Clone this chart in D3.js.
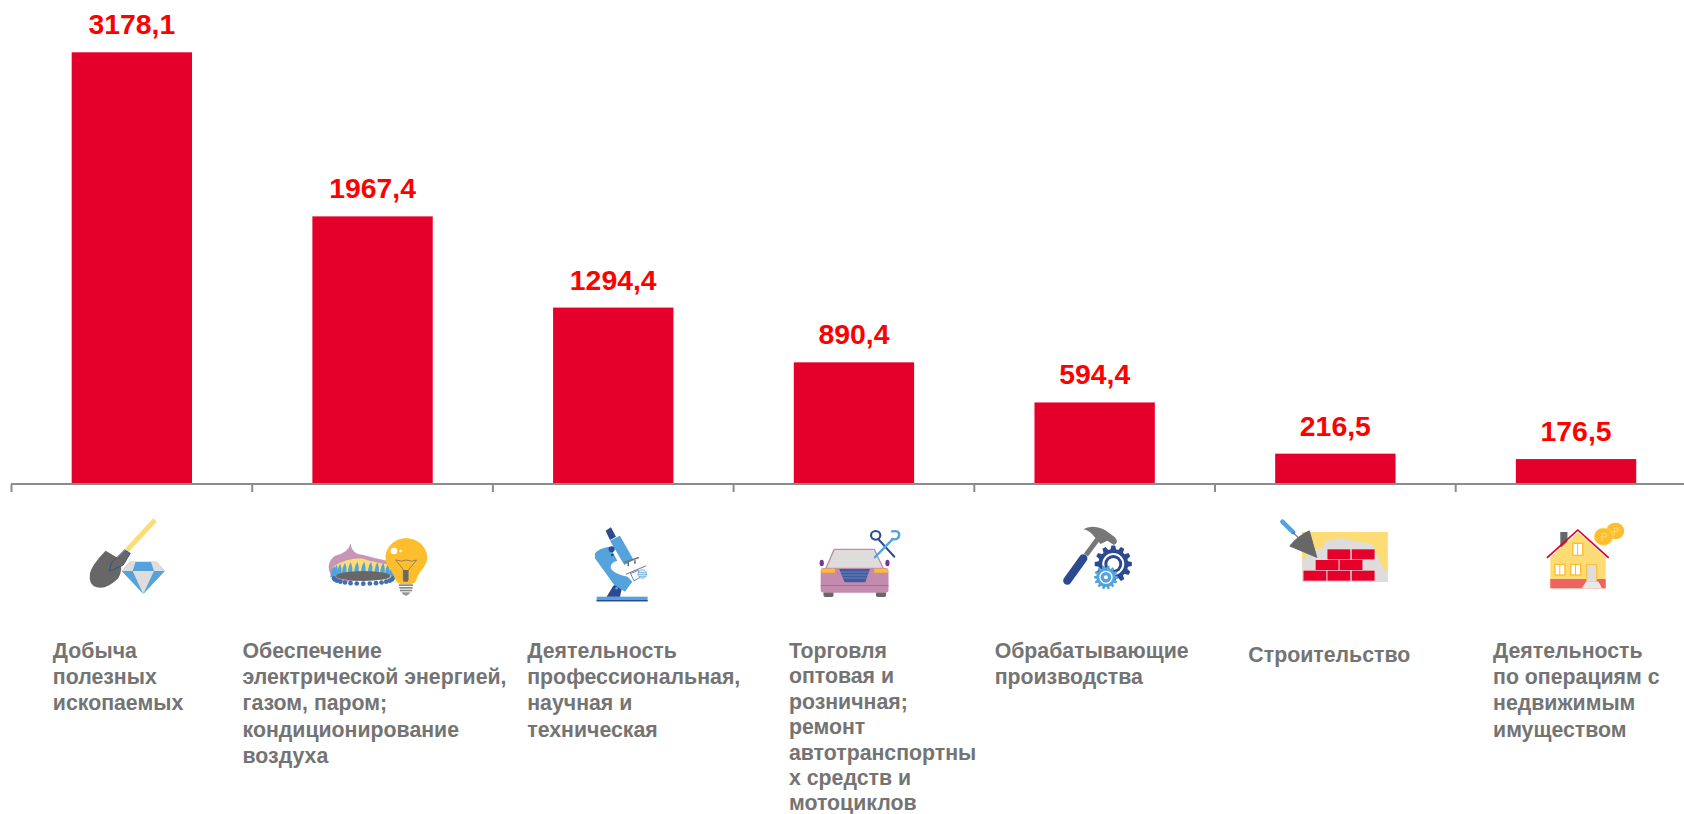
<!DOCTYPE html>
<html>
<head>
<meta charset="utf-8">
<script src="https://cdn.jsdelivr.net/npm/d3@7"></script>
<style>
  html, body { margin: 0; padding: 0; background: #fff; overflow: hidden; }
  text { font-family: "Liberation Sans", Arial, sans-serif; font-weight: bold; }
</style>
</head>
<body>
<div id="viz"></div>
<script>
var categories = ['mining', 'power', 'science', 'trade', 'manufacturing', 'construction', 'realty'];
var values = [3178.1, 1967.4, 1294.4, 890.4, 594.4, 216.5, 176.5];
var valueLabels = ['3178,1', '1967,4', '1294,4', '890,4', '594,4', '216,5', '176,5'];
var categoryLines = [
  ['Добыча', 'полезных', 'ископаемых'],
  ['Обеспечение', 'электрической энергией,', 'газом, паром;', 'кондиционирование', 'воздуха'],
  ['Деятельность', 'профессиональная,', 'научная и', 'техническая'],
  ['Торговля', 'оптовая и', 'розничная;', 'ремонт', 'автотранспортны', 'х средств и', 'мотоциклов'],
  ['Обрабатывающие', 'производства'],
  ['Строительство'],
  ['Деятельность', 'по операциям с', 'недвижимым', 'имуществом']
];

var width = 1684, height = 814;
var step = 240.7, left = 11.5, baseline = 483;

// labels do not sit centred under the bars, offset from the bar centre
var labelOffset = [-79, -130, -86, -65, -100, -87, -83];

var blue = '#54a3dc', navy = '#2b4a8f', grey = '#676767', yellow = '#fddb75',
    amber = '#fdbe2d', light = '#dfdcdc', red = '#e4002b';

var x = d3.scaleBand().domain(categories).range([left, left + step * categories.length])
  .paddingInner(0.5).paddingOuter(0.25);
var xTicks = d3.scaleLinear().domain([0, categories.length]).range([left - 0.5, left - 0.5 + step * categories.length]);
var y = d3.scaleLinear().domain([0, 3178.1]).range([baseline, 52.3]);

var svg = d3.select('#viz').append('svg')
  .attr('width', width)
  .attr('height', height)
  .style('display', 'block');

// bars
svg.append('g').selectAll('rect')
  .data(values)
  .join('rect')
  .attr('x', (d, i) => x(categories[i]))
  .attr('y', d => y(d))
  .attr('width', x.bandwidth())
  .attr('height', d => y(0) - y(d))
  .attr('fill', red);

// value labels
svg.append('g').selectAll('text')
  .data(values)
  .join('text')
  .attr('x', (d, i) => x(categories[i]) + x.bandwidth() / 2)
  .attr('y', d => y(d) - 18)
  .attr('text-anchor', 'middle')
  .attr('font-size', 28.4)
  .attr('fill', '#ff0000')
  .text((d, i) => valueLabels[i]);

// axis, ticks fall between the categories
var axis = svg.append('g')
  .attr('transform', 'translate(0,' + (baseline + 1) + ')')
  .call(d3.axisBottom(xTicks).tickValues(d3.range(categories.length + 1)).tickSize(8).tickSizeOuter(0).tickFormat(''));
axis.selectAll('path, line').attr('stroke', '#8c8c8c').attr('stroke-width', 2);
axis.select('.domain').attr('d', 'M' + (left - 0.5) + ',0H' + width);

// category labels
var labels = svg.append('g').selectAll('text')
  .data(categoryLines)
  .join('text')
  .attr('font-size', 21.3)
  .attr('fill', '#747474');
labels.each(function(lines, i) {
  var cx = x(categories[i]) + x.bandwidth() / 2;
  var firstLine = i === 5 ? 662 : 658;
  var lineStep = lines.length > 5 ? 25.4 : 26.2; // the long label is squeezed to fit the page
  d3.select(this).selectAll('tspan')
    .data(lines)
    .join('tspan')
    .attr('x', cx + labelOffset[i])
    .attr('y', (d, j) => firstLine + j * lineStep)
    .text(d => d);
});

// small helpers for the pictograms
function path(g, d, fill, stroke, sw) {
  return g.append('path').attr('d', d).attr('fill', fill || 'none')
    .attr('stroke', stroke || 'none').attr('stroke-width', sw || 0)
    .attr('stroke-linecap', 'round').attr('stroke-linejoin', 'round');
}
function box(g, a, b, w, h, fill, stroke, sw) {
  return g.append('rect').attr('x', a).attr('y', b).attr('width', w).attr('height', h)
    .attr('fill', fill).attr('stroke', stroke || 'none').attr('stroke-width', sw || 0);
}
function circle(g, a, b, r, fill, stroke, sw) {
  return g.append('circle').attr('cx', a).attr('cy', b).attr('r', r)
    .attr('fill', fill).attr('stroke', stroke || 'none').attr('stroke-width', sw || 0);
}
function gear(g, a, b, r, teeth, fill) {
  var s = d3.range(teeth).map(function(i) {
    var t = i / teeth * 2 * Math.PI, w = Math.PI / teeth * 0.55;
    return [[r * 0.8, t - w * 1.3], [r, t - w * 0.7], [r, t + w * 0.7], [r * 0.8, t + w * 1.3]];
  }).flat().map(p => (a + p[0] * Math.cos(p[1])) + ',' + (b + p[0] * Math.sin(p[1])));
  return path(g, 'M' + s.join('L') + 'Z', fill);
}

function iconMining(g) {
  path(g, 'M240,30L155,122', null, yellow, 15).attr('stroke-linecap', 'butt');
  path(g, 'M92,122L135,148Q145,180 130,205Q95,240 65,232Q40,225 45,190Q50,165 92,122Z', grey);
  path(g, 'M150,120L166,130L145,165L103,184L109,160Z', grey, navy, 2.5);
  path(g, 'M165,155H245L270,183L205,252L140,183Z', blue);
  path(g, 'M165,155H182L173,183H140Z', light);
  path(g, 'M228,155H245L270,183H237Z', light);
  path(g, 'M173,183H237L205,252Z', light);
}
function iconPower(g) {
  path(g, 'M92,55Q85,85 45,92Q15,115 33,150L60,172L205,160L205,108Q165,100 130,90Q95,88 92,55Z', '#c795b5');
  path(g, 'M38,125Q80,100 125,100Q160,112 205,118V165H70Q45,155 38,125Z', yellow);
  d3.range(15).forEach(function(i) {
    var t = Math.PI * (i / 14), fx = 130 - 92 * Math.cos(t), fy = 152 - 16 * Math.sin(t);
    path(g, 'M' + (fx - 7) + ',' + (fy + 5) + 'Q' + (fx - 4) + ',' + (fy - 18) + ' ' + (fx + 3) + ',' + (fy - 26) + 'Q' + (fx + 9) + ',' + (fy - 8) + ' ' + (fx + 7) + ',' + (fy + 5) + 'Z', blue);
  });
  // scalloped rim of the burner
  d3.range(15).forEach(function(i) {
    var t = Math.PI * (i / 14);
    circle(g, 130 - 88 * Math.cos(t), 160 + 16 * Math.sin(t), 7, '#3f6fb0');
  });
  g.append('ellipse').attr('cx', 130).attr('cy', 153).attr('rx', 82).attr('ry', 15).attr('fill', grey);
  path(g, 'M258,40C225,40 197,65 197,98C197,125 218,135 226,162C228,172 235,178 258,178C282,178 288,172 290,162C298,135 322,125 322,98C322,65 292,40 258,40Z', amber);
  circle(g, 222, 78, 10, '#fff');
  circle(g, 242, 78, 4, '#fff');
  path(g, 'M228,105Q245,112 258,105Q275,112 290,105L265,135V165H250V135Z', 'none', grey, 2);
  box(g, 250, 135, 14, 35, grey);
  box(g, 237, 178, 42, 5, '#888');
  box(g, 238, 186, 40, 5, '#888');
  box(g, 240, 194, 36, 5, '#888');
  path(g, 'M245,202H272Q265,212 258,212Q250,212 245,202Z', '#999');
}
function iconScience(g) {
  box(g, 35, 230, 153, 14, blue);
  box(g, 35, 240, 153, 4, navy);
  path(g, 'M65,230L85,197Q97,190 112,200L105,230Z', navy);
  circle(g, 95, 205, 4, blue);
  path(g, 'M62,32L78,22L93,50L75,60Z', navy);
  path(g, 'M75,62L105,47L146,120L118,135Z', blue);
  path(g, 'M30,100Q40,85 75,80L97,122Q74,128 78,146Q88,162 128,170L142,185L120,215L88,195L30,115Z', blue);
  circle(g, 80, 88, 9, navy);
  circle(g, 82, 105, 4, navy);
  path(g, 'M120,127L160,113', null, '#777', 5);
  path(g, 'M130,128V137M150,122V130', null, '#555', 4);
  path(g, 'M125,162L182,138', null, '#888', 4);
  path(g, 'M138,160L160,151L166,172L148,182Z', '#fff', navy, 2);
  circle(g, 172, 162, 13, '#dce9f5', blue, 2);
  path(g, 'M161,158H183M160,164H184M163,170H181', null, blue, 2);
}
function iconTrade(g) {
  path(g, 'M745,295L768,238H880L905,295Z', light, '#c38cae', 4);
  g.append('ellipse').attr('cx', 733).attr('cy', 279).attr('rx', 6).attr('ry', 10).attr('fill', '#6f3a96');
  g.append('ellipse').attr('cx', 917).attr('cy', 279).attr('rx', 6).attr('ry', 10).attr('fill', '#6f3a96');
  box(g, 738, 365, 28, 16, grey).attr('rx', 5);
  box(g, 885, 365, 28, 16, grey).attr('rx', 5);
  box(g, 730, 294, 190, 74, '#c38cae').attr('rx', 9);
  box(g, 730, 345, 190, 3, '#a56b95');
  box(g, 732, 296, 38, 12, amber);
  box(g, 880, 296, 38, 12, amber);
  path(g, 'M782,297H868L855,337H797Z', '#3f5b9e');
  path(g, 'M786,306H864M789,315H861M792,324H858', null, '#7f93c4', 2);
  path(g, 'M892,208L936,260', null, navy, 6);
  circle(g, 884, 196, 13, 'none', navy, 6);
  path(g, 'M882,262L932,207', null, blue, 7);
  path(g, 'M930,184Q950,180 950,195Q948,212 930,207', null, blue, 7);
}
function iconManufacturing(g) {
  path(g, 'M52,182L100,115', null, navy, 25);
  path(g, 'M108,105L143,58', null, '#777', 15).attr('stroke-linecap', 'butt');
  path(g, 'M100,28Q125,12 165,30L195,52Q208,68 192,75L172,62L152,72L128,44Q115,30 100,28Z', '#777');
  gear(g, 190, 132, 56, 12, navy);
  circle(g, 190, 132, 33, '#fff');
  circle(g, 190, 132, 27, navy);
  circle(g, 190, 132, 18, '#fff');
  gear(g, 168, 172, 36, 14, blue);
  circle(g, 168, 172, 20, '#fff');
  circle(g, 168, 172, 16, blue);
  circle(g, 168, 172, 6, '#fff');
}
function iconConstruction(g) {
  box(g, 510, 186, 240, 150, yellow);
  path(g, 'M510,272Q540,232 570,235Q568,205 620,205Q680,218 710,225Q722,272 748,310V336H510Z', light);
  [[581, 238], [649, 238], [548, 270], [615, 270], [514, 302], [581, 302], [649, 302]].forEach(function(b) {
    box(g, b[0], b[1], 64, 30, red);
  });
  path(g, 'M455,155L485,187', null, blue, 13);
  path(g, 'M485,187L505,210', null, grey, 3);
  path(g, 'M530,183L551,262L476,228Q500,197 530,183Z', grey, grey, 3);
}
function iconRealty(g) {
  box(g, 1233, 186, 20, 45, grey);
  path(g, 'M1205,262L1282,187L1360,262V355H1205Z', yellow);
  box(g, 1205, 327, 155, 28, '#ee6262');
  path(g, 'M1197,262L1282,180L1367,262', null, red, 5);
  [[1268, 220, 28, 36], [1218, 283, 28, 32], [1262, 283, 28, 32]].forEach(function(w) {
    box(g, w[0], w[1], w[2], w[3], '#fff', amber, 4);
    box(g, w[0] + w[2] / 2 - 2, w[1], 3, w[3], amber);
  });
  box(g, 1307, 284, 28, 52, light, amber, 3);
  path(g, 'M1293,355H1350L1340,335H1305Z', '#e9e9e9');
  circle(g, 1387, 183, 25, amber);
  circle(g, 1354, 200, 26, amber, '#fddb75', 2);
  path(g, 'M1350,212V190H1360Q1366,195 1360,201H1346', null, yellow, 3);
  path(g, 'M1384,195V174H1392Q1398,179 1392,185H1380', null, yellow, 3);
}

// origin of each picture relative to the bar centre, y, and its scale
var icons = [
  {draw: iconMining, dx: -56.9, y: 510, kx: 1 / 3, ky: 1 / 3},
  {draw: iconPower, dx: -52.6, y: 525, kx: 1 / 3, ky: 1 / 3},
  {draw: iconScience, dx: -28.3, y: 520, kx: 1 / 3, ky: 1 / 3},
  {draw: iconTrade, dx: -294, y: 470, kx: 1 / 2.8, ky: 1 / 3},
  {draw: iconManufacturing, dx: -44.7, y: 520, kx: 1 / 3, ky: 1 / 3},
  {draw: iconConstruction, dx: -215.4, y: 470, kx: 1 / 2.8, ky: 1 / 3},
  {draw: iconRealty, dx: -456.1, y: 470, kx: 1 / 2.8, ky: 1 / 3}
];
icons.forEach(function(ic, i) {
  var g = svg.append('g')
    .attr('transform', 'translate(' + (x(categories[i]) + x.bandwidth() / 2 + ic.dx) + ',' + ic.y + ') scale(' + ic.kx + ',' + ic.ky + ')');
  ic.draw(g);
});
</script>
</body>
</html>
